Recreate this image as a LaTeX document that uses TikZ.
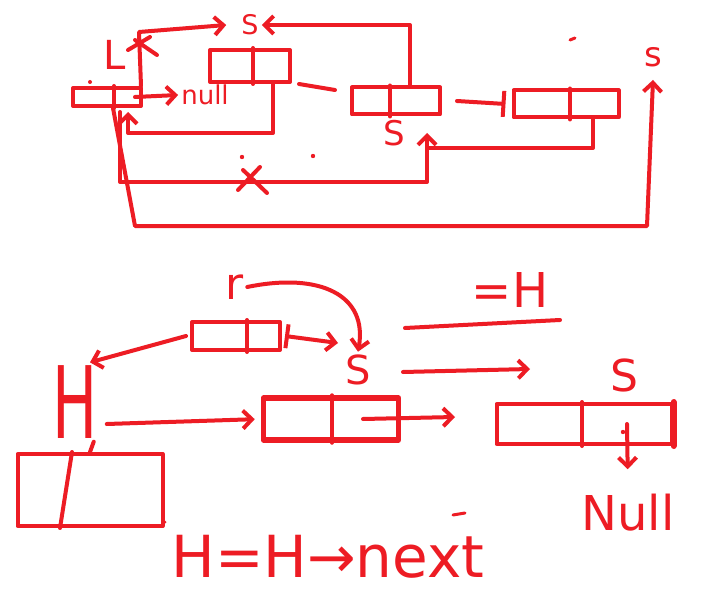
\documentclass[tikz,border=0pt]{standalone}
\usepackage{fontspec}
\setmainfont{DejaVu Sans}
\usetikzlibrary{arrows.meta}
\definecolor{pen}{RGB}{237,28,36}
\newcommand{\penfs}[1]{\fontsize{#1}{#1}\selectfont}
\begin{document}
\begin{tikzpicture}[x=1pt,y=-1pt,
  ink/.style={draw=pen,line width=4pt,line cap=round,line join=round},
  cell/.style={ink,rectangle,inner sep=0pt},
  tip/.style={-{Straight Barb[length=9pt,width=18pt]}},
  lbl/.style={text=pen,inner sep=3pt,font=#1},
  dot/.style={fill=pen,draw=none}
]
\fill[white] (0,0) rectangle (710,599);
\useasboundingbox (0,0) rectangle (710,599);

% ---------- top part ----------
\node[cell,minimum width=68pt,minimum height=18pt] (Lbox) at (107,97) {};
\draw[ink] ([xshift=7pt]Lbox.north) -- ([xshift=7pt]Lbox.south);
\node[lbl=\penfs{40}] (L) at (115,55) {L};
\node[lbl=\penfs{27}] (Stop) at (250,25) {S};
\node[lbl=\penfs{26}] (null1) at (205,95) {null};

\node[cell,minimum width=80pt,minimum height=32pt] (B2) at (250,66) {};
\draw[ink] ([xshift=3pt]B2.north) -- ([xshift=3pt]B2.south);

\node[cell,minimum width=88pt,minimum height=27pt] (B3) at (396,101) {};
\draw[ink] ([xshift=-6pt]B3.north) -- ([xshift=-6pt]B3.south);

\node[cell,minimum width=105pt,minimum height=27pt] (B4) at (566,104) {};
\draw[ink] ([xshift=4pt]B4.north) -- ([xshift=4pt]B4.south);

\node[lbl=\penfs{34}] (S2) at (394,133) {S};
\node[lbl=\penfs{34}] (Sright) at (653,57) {s};

% connectors top
\draw[ink,tip] ([xshift=-2pt]Lbox.north east) -- (139,32) -- ([xshift=-12pt]Stop.west);
\draw[ink] (128,50) -- (150,37) (135,40) -- (157,55);
\draw[ink,tip] ([xshift=14pt]B3.north) -- (410,25) -- (Stop.east);
\draw[ink,tip] ([xshift=-8pt]Lbox.east) -- (null1.west);
\coordinate (b2stub) at (335,90);
\draw[ink] ([xshift=7pt]B2.south east) -- (b2stub);
\draw[ink,tip,shorten >=4pt] ([xshift=23pt]B2.south) -- (273,133) -- (128,133) -- ([xshift=21pt]Lbox.south);
\draw[ink,-{Bar[width=26pt]}] ([xshift=15pt]B3.east) -- ([xshift=-6pt]B4.west);
\draw[ink,tip] ([xshift=27pt]B4.south) -- (593,148) -- (427,148) -- (427,133);
\draw[ink] (427,148) -- (427,182) -- (120,182) -- (120,112);
\draw[ink] (243,170) -- (267,193) (260,167) -- (238,190);
\draw[ink,tip] ([xshift=6pt]Lbox.south) -- (135,226) -- (647,226) -- ([yshift=-10pt]Sright.south);
\fill[dot] (90,82) circle (2pt) (242,157) circle (2.2pt) (313,156) circle (2.2pt);
\draw[ink,line width=3pt] (570,40) -- (575,38);

% ---------- bottom part ----------
\node[lbl=\penfs{44}] (r) at (235,287) {r};
\node[cell,minimum width=88pt,minimum height=28pt] (Rbox) at (236,336) {};
\draw[ink] ([xshift=11pt]Rbox.north) -- ([xshift=11pt]Rbox.south);

\node[lbl=\penfs{100}] (H) at (75,402) {\scalebox{0.6}[1]{H}};
\node[cell,minimum width=145pt,minimum height=72pt] (Hbox) at (90,490) {};
\draw[ink] ([xshift=-18pt]Hbox.north) -- ([xshift=-30pt]Hbox.south);

\node[cell,line width=5.5pt,minimum width=135pt,minimum height=42pt] (Mbox) at (331,419) {};
\draw[ink] ([xshift=1pt]Mbox.north) -- ([xshift=1pt]Mbox.south);
\node[lbl=\penfs{40}] (Smid) at (358,370) {S};

\node[lbl=\penfs{48}] (eqH) at (510,290) {=H};

\node[cell,minimum width=175pt,minimum height=40pt] (B5) at (584,424) {};
\draw[ink] ([xshift=-2pt]B5.north) -- ([xshift=-2pt]B5.south);
\draw[ink,line width=6pt] (B5.north east) -- (B5.south east);
\node[lbl=\penfs{44}] (S5) at (624,375) {S};
\node[lbl=\penfs{48}] (Null) at (628,513) {Null};

\node[lbl=\penfs{58}] (cmd) at (328,557) {H=H→next};

% connectors bottom
\draw[ink,tip] (r.east) .. controls (320,272) and (368,295) .. (Smid.north);
\coordinate (rend) at (338,343);
\draw[ink,{Bar[width=24pt]}-{Straight Barb[length=9pt,width=18pt]}] ([xshift=3pt]Rbox.east) -- (rend);
\draw[ink,tip] ([xshift=-4pt]Rbox.west) -- ([xshift=15pt]H.north);
\draw[ink,tip,shorten >=6pt] ([xshift=6pt,yshift=-22pt]H.east) -- (Mbox.west);
\draw[ink] ([xshift=-7pt]H.south east) -- (Hbox.north);
\coordinate (mend) at (455,417);
\draw[ink,tip] ([xshift=32pt]Mbox.center) -- (mend);
\coordinate (ul1) at (405,328);
\coordinate (ul2) at (560,320);
\draw[ink] (ul1) -- (ul2);
\coordinate (a1) at (403,372);
\coordinate (a2) at (530,369);
\draw[ink,tip] (a1) -- (a2);
\draw[ink,tip,shorten >=22pt] ([xshift=43pt]B5.center) -- (Null.north);
\fill[dot] (623,432) circle (2.2pt) (165,522) circle (1.5pt);
\draw[ink,line width=3pt] (453,515) -- (465,513);
\end{tikzpicture}
\end{document}
